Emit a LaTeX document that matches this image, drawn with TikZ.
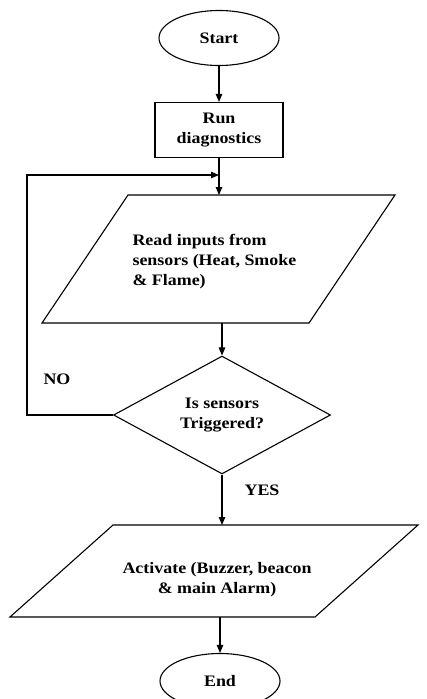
\documentclass[tikz,border=0pt]{standalone}
\usepackage{fontspec}
\setmainfont[FakeStretch=1.12]{Liberation Serif}
\usetikzlibrary{arrows.meta,positioning,shapes.geometric}

\begin{document}
\begin{tikzpicture}[x=1pt, y=-1pt,
    every node/.style={font=\fontsize{16}{20}\selectfont\bfseries},
    term/.style={ellipse, draw, line width=1.1pt, minimum width=120pt, minimum height=55pt, inner sep=0pt},
    proc/.style={rectangle, draw, line width=1.1pt, minimum width=128pt, minimum height=55pt, align=center},
    io/.style={rectangle, inner sep=0pt, outer sep=0pt},
    decide/.style={diamond, draw, line width=1.1pt, minimum width=217pt, minimum height=107pt, inner sep=0pt, align=center},
    edge/.style={line width=1.1pt, line join=miter},
    arr/.style={-{Triangle[length=8pt,width=6.5pt]}, line width=1.1pt},
    lbl/.style={font=\fontsize{16}{20}\selectfont\bfseries}]

    \useasboundingbox (0,0) rectangle (427,699);

    % flow boxes
    \node[term] (start) at (219,38)  {Start};
    \node[proc] (diag)  at (219,130) {Run\\diagnostics};
    \node[io, minimum width=353pt, minimum height=128pt] (read) at (218.5,259) {};
    \node[decide] (check) at (222,415) {Is sensors\\Triggered?};
    \node[io, minimum width=408pt, minimum height=92pt] (act) at (214,571) {};
    \node[term] (stop) at (220,681) {End};

    % slanted outlines of the input/output boxes
    \draw[edge] ([xshift=86pt]read.north west) -- (read.north east)
        -- ([xshift=-86pt]read.south east) -- (read.south west) -- cycle;
    \draw[edge] ([xshift=103pt]act.north west) -- (act.north east)
        -- ([xshift=-103pt]act.south east) -- (act.south west) -- cycle;

    % texts of the input/output boxes
    \node[align=left, anchor=west] (readtxt) at (129,262)
        {Read inputs from\\sensors (Heat, Smoke\\\& Flame)};
    \node[align=center] (acttxt) at (217,580)
        {Activate (Buzzer, beacon\\\& main Alarm)};

    % loop points
    \coordinate (join)  at (219,175);
    \coordinate (loopc) at (27,415);

    \draw[arr] (start) -- (diag);
    \draw[edge] (diag) -- (join);
    \draw[arr] (join) -- (read.north -| join);
    \draw[arr] (read.south -| check.north) -- (check.north);
    \draw[arr] (check.west) -- (loopc) |- (join);
    \draw[arr] (check.south) -- (act.north -| check.south);
    \draw[arr] (act.south -| stop.north) -- (stop.north);

    % branch labels
    \node[lbl] (no)  at (57,379)  {NO};
    \node[lbl] (yes) at (262,490) {YES};
\end{tikzpicture}
\end{document}
